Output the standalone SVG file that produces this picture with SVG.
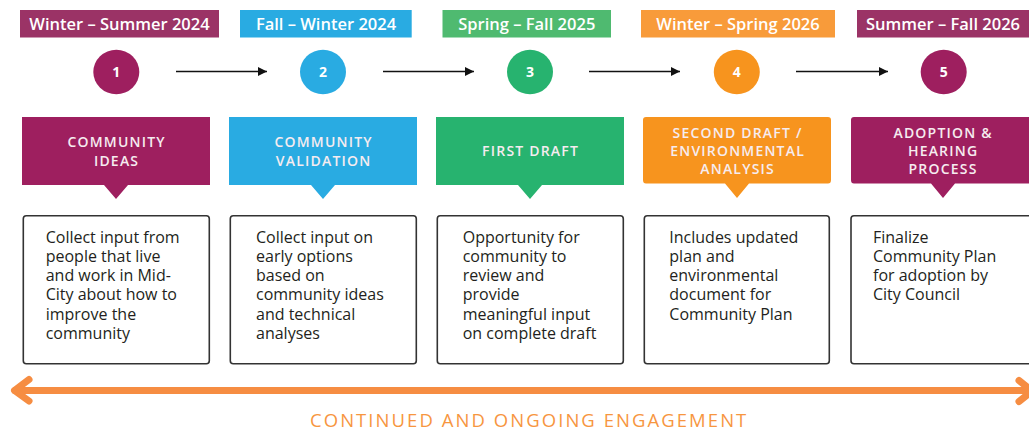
<svg xmlns="http://www.w3.org/2000/svg" width="1029" height="432" viewBox="0 0 1029 432">
<defs>
<style>
.date{font-family:"Open Sans","Liberation Sans",sans-serif;font-weight:600;font-size:16.5px;fill:#ffffff;text-anchor:middle}
.num{font-family:"Open Sans","Liberation Sans",sans-serif;font-weight:700;font-size:14px;fill:#ffffff;text-anchor:middle}
.head{font-family:"Open Sans","Liberation Sans",sans-serif;font-weight:600;font-size:14px;letter-spacing:1.2px;fill:#f6ecf0;text-anchor:middle}
.body{font-family:"Open Sans","Liberation Sans",sans-serif;font-size:16px;fill:#231f20}
.card{fill:#ffffff;stroke:#333333;stroke-width:1.6}
.conn{stroke:#111111;stroke-width:1.6;fill:none}
.eng{fill:none;stroke:#f68d42;stroke-width:7;stroke-linecap:round;stroke-linejoin:round}
.engtext{font-family:"Open Sans","Liberation Sans",sans-serif;font-size:18.5px;letter-spacing:2.05px;fill:#f7963f}
.purpleL{fill:#9b3366}.purple{fill:#9e1f5f}
.blue{fill:#29abe2}
.greenL{fill:#4fba70}.green{fill:#27b36f}
.orangeL{fill:#f89b3a}.orange{fill:#f7941e}
</style>
<marker id="ah" viewBox="0 0 10 10" refX="10" refY="5" markerWidth="9" markerHeight="11" markerUnits="userSpaceOnUse" orient="auto">
<path d="M0,0 L10,5 L0,10 Z" fill="#111111"/>
</marker>
</defs>
<rect width="1029" height="432" fill="#ffffff"/>

<g id="connectors">
<line class="conn" x1="176" y1="71.5" x2="267" y2="71.5" marker-end="url(#ah)"/>
<line class="conn" x1="383" y1="71.5" x2="474" y2="71.5" marker-end="url(#ah)"/>
<line class="conn" x1="589" y1="71.5" x2="680" y2="71.5" marker-end="url(#ah)"/>
<line class="conn" x1="796" y1="71.5" x2="888" y2="71.5" marker-end="url(#ah)"/>
</g>

<g id="step1">
<rect class="purpleL" x="20" y="10" width="199" height="27.5"/>
<text class="date" x="119.5" y="29.5">Winter – Summer 2024</text>
<ellipse class="purple" cx="116.3" cy="72" rx="23" ry="22.3"/>
<text class="num" x="116.3" y="77">1</text>
<path class="purple" d="M22,117 H210 V185 H128 L116,199 L104,185 H22 Z"/>
<text class="head"><tspan x="116.6" y="147.3">COMMUNITY</tspan><tspan x="116.6" y="165.7">IDEAS</tspan></text>
<rect class="card" x="23.3" y="215.8" width="186" height="148" rx="3"/>
<text class="body"><tspan x="45.7" y="242.5">Collect input from</tspan><tspan x="45.7" y="261.8">people that live</tspan><tspan x="45.7" y="281.1">and work in Mid-</tspan><tspan x="45.7" y="300.4">City about how to</tspan><tspan x="45.7" y="319.7">improve the</tspan><tspan x="45.7" y="339">community</tspan></text>
</g>

<g id="step2">
<rect class="blue" x="240" y="10" width="171.7" height="27.5"/>
<text class="date" x="326" y="29.5">Fall – Winter 2024</text>
<ellipse class="blue" cx="323" cy="72" rx="23" ry="22.3"/>
<text class="num" x="323" y="77">2</text>
<path class="blue" d="M229,117 H417 V185 H335 L323,199 L311,185 H229 Z"/>
<text class="head"><tspan x="323.6" y="147.3">COMMUNITY</tspan><tspan x="323.6" y="165.7">VALIDATION</tspan></text>
<rect class="card" x="230.3" y="215.8" width="186" height="148" rx="3"/>
<text class="body"><tspan x="256" y="242.5">Collect input on</tspan><tspan x="256" y="261.8">early options</tspan><tspan x="256" y="281.1">based on</tspan><tspan x="256" y="300.4">community ideas</tspan><tspan x="256" y="319.7">and technical</tspan><tspan x="256" y="339">analyses</tspan></text>
</g>

<g id="step3">
<rect class="greenL" x="442.5" y="10" width="168.5" height="27.5"/>
<text class="date" x="526.8" y="29.5">Spring – Fall 2025</text>
<ellipse class="green" cx="530" cy="72" rx="23" ry="22.3"/>
<text class="num" x="530" y="77">3</text>
<path class="green" d="M436,117 H624 V185 H542 L530,199 L518,185 H436 Z"/>
<text class="head"><tspan x="530.6" y="156">FIRST DRAFT</tspan></text>
<rect class="card" x="437.3" y="215.8" width="186" height="148" rx="3"/>
<text class="body"><tspan x="462.7" y="242.5">Opportunity for</tspan><tspan x="462.7" y="261.8">community to</tspan><tspan x="462.7" y="281.1">review and</tspan><tspan x="462.7" y="300.4">provide</tspan><tspan x="462.7" y="319.7">meaningful input</tspan><tspan x="462.7" y="339">on complete draft</tspan></text>
</g>

<g id="step4">
<rect class="orangeL" x="641" y="10" width="194" height="27.5"/>
<text class="date" x="738" y="29.5">Winter – Spring 2026</text>
<ellipse class="orange" cx="736.8" cy="72" rx="23" ry="22.3"/>
<text class="num" x="736.8" y="77">4</text>
<path class="orange" d="M646,117 H828 Q831,117 831,120 V180 Q831,183.5 828,183.5 H749 L737,198 L725,183.5 H646 Q643,183.5 643,180 V120 Q643,117 646,117 Z"/>
<text class="head"><tspan x="737.6" y="137.7">SECOND DRAFT /</tspan><tspan x="737.6" y="156">ENVIRONMENTAL</tspan><tspan x="737.6" y="174.3">ANALYSIS</tspan></text>
<rect class="card" x="644.3" y="215.8" width="185" height="148" rx="3"/>
<text class="body"><tspan x="669.3" y="242.5">Includes updated</tspan><tspan x="669.3" y="261.8">plan and</tspan><tspan x="669.3" y="281.1">environmental</tspan><tspan x="669.3" y="300.4">document for</tspan><tspan x="669.3" y="319.7">Community Plan</tspan></text>
</g>

<g id="step5">
<rect class="purpleL" x="857" y="10" width="175" height="27.5"/>
<text class="date" x="943" y="29.5">Summer – Fall 2026</text>
<ellipse class="purple" cx="943.7" cy="72" rx="23" ry="22.3"/>
<text class="num" x="943.7" y="77">5</text>
<path class="purple" d="M854,117 H1040 V183.5 H955 L943,198 L931,183.5 H854 Q851,183.5 851,180 V120 Q851,117 854,117 Z"/>
<text class="head"><tspan x="943.1" y="137.7">ADOPTION &amp;</tspan><tspan x="943.1" y="156">HEARING</tspan><tspan x="943.1" y="174.3">PROCESS</tspan></text>
<rect class="card" x="851" y="215.8" width="186" height="148" rx="3"/>
<text class="body"><tspan x="873" y="242.5">Finalize</tspan><tspan x="873" y="261.8">Community Plan</tspan><tspan x="873" y="281.1">for adoption by</tspan><tspan x="873" y="300.4">City Council</tspan></text>
</g>

<g id="engagement">
<line class="eng" x1="15" y1="390.5" x2="1030" y2="390.5"/>
<polyline class="eng" points="29,379.5 14.5,390.5 29,401"/>
<polyline class="eng" points="1019,380.5 1032,391 1019,401.5"/>
<text class="engtext" x="310" y="426.5">CONTINUED AND ONGOING ENGAGEMENT</text>
</g>
</svg>
